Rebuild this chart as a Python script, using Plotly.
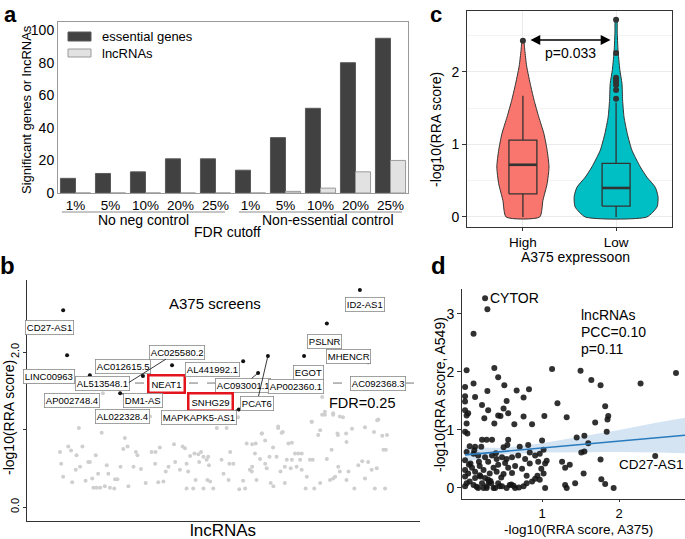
import plotly.graph_objects as go

W, H = 685, 539
FONT = "Liberation Sans, Arial, sans-serif"


def px(x):
    return x / W


def py(y):
    return 1 - y / H


# ---------------- Panel a data ----------------
fdr_labels = ['1%', '5%', '10%', '20%', '25%', '1%', '5%', '10%', '20%', '25%']
essential_genes = [9, 12, 13, 21, 21, 14, 34, 52, 80, 95]
lncrna_counts = [0, 0, 0, 0, 0, 0, 1, 3, 13, 20]
group_names = ['No neg control', 'Non-essential control']

# ---------------- Panel b data ----------------
grey_x = [13.2, 19.0, 8.4, 10.5, 11.2, 14.1, 12.6, 17.5, 8.7, 13.5, 12.4, 9.2, 11.5, 14.9, 15.6, 16.0,
          16.6, 16.9, 17.7, 18.6, 18.1, 20.3, 20.7, 19.8, 21.1, 22.2, 23.0, 22.4, 23.8, 24.9, 24.5, 25.6,
          25.8, 27.7, 28.1, 27.1, 29.0, 30.2, 31.7, 32.7, 32.6, 33.8, 33.4, 34.7, 35.3, 36.0, 37.4, 37.7,
          39.6, 40.2, 38.9, 40.6, 41.0, 41.5, 42.6, 43.6, 44.3, 44.9, 43.8, 42.9, 42.3, 40.6, 44.9, 45.9,
          46.6, 47.4, 46.1, 46.3, 48.3, 50.8, 49.5, 50.0, 51.3, 51.7, 52.5, 54.0, 55.0, 55.9, 57.3, 58.2,
          58.0, 59.3, 59.7, 56.7, 57.2, 58.4, 61.0, 60.6, 61.7, 62.0, 62.7, 63.9, 64.8, 63.5, 64.5, 65.6,
          66.5, 67.4, 67.1, 66.1, 68.2, 69.0, 69.9, 69.5, 68.6, 69.9, 70.9, 71.2, 72.4, 72.7, 72.0, 73.1,
          74.1, 74.6, 75.1, 76.3, 77.5, 77.9, 79.0, 79.2, 79.6, 81.3, 81.3, 81.8, 83.3, 84.3, 85.3, 86.0,
          86.8, 87.7, 88.5, 89.0, 89.4, 90.4, 90.7, 91.1, 91.3, 77.9, 78.4, 77.1, 65.6, 57.3, 55.5, 51.5,
          45.7, 19.3, 31.3, 35.1, 53.7, 52.9, 63.9, 65.1, 59.8, 72.5, 74.6, 75.8, 77.9, 80.4, 79.1, 81.2,
          82.7, 86.0, 88.3, 89.1, 91.6, 60.6, 67.4, 62.6, 75.1, 75.8, 79.6, 52.2]
grey_y = [1.02, 0.96, 0.71, 0.78, 0.73, 0.78, 0.67, 0.67, 0.56, 0.52, 0.48, 0.39, 0.32, 0.34, 0.58, 0.58,
          0.37, 0.25, 0.25, 0.25, 0.43, 0.54, 0.43, 0.27, 0.25, 0.24, 0.36, 0.36, 0.52, 0.89, 0.75, 0.78,
          0.27, 0.71, 0.67, 0.52, 0.49, 0.31, 0.71, 0.71, 0.56, 0.77, 0.32, 0.33, 0.46, 0.52, 0.81, 0.58,
          0.78, 0.76, 0.48, 0.56, 0.46, 0.66, 0.69, 0.68, 0.71, 0.65, 0.58, 0.35, 0.24, 0.24, 0.24, 0.35,
          0.33, 0.24, 0.65, 0.54, 1.02, 1.02, 0.61, 0.43, 0.35, 0.71, 0.56, 0.23, 0.34, 0.82, 0.81, 0.82,
          0.69, 0.62, 0.95, 0.48, 0.46, 0.35, 0.50, 0.56, 0.65, 0.31, 0.27, 1.04, 0.96, 0.65, 0.46, 0.31,
          0.82, 0.61, 0.50, 0.61, 0.69, 0.69, 0.69, 0.61, 0.52, 0.48, 0.24, 0.39, 1.10, 0.61, 0.61, 0.24,
          0.93, 0.31, 1.19, 0.62, 0.74, 1.19, 0.95, 0.52, 0.46, 0.84, 0.35, 0.46, 0.24, 0.54, 0.59, 0.37,
          0.58, 0.48, 0.24, 0.50, 1.13, 0.92, 0.74, 0.24, 0.74, 0.37, 0.39, 0.35, 0.52, 0.52, 0.24, 0.56,
          0.61, 1.47, 1.17, 1.11, 1.16, 1.10, 1.02, 0.97, 0.95, 1.10, 0.99, 1.19, 1.21, 1.16, 0.93, 0.95,
          1.01, 1.03, 0.97, 1.12, 0.93, 0.86, 0.83, 0.77, 1.42, 1.23, 1.17, 1.15]

sig_names = ['CD27-AS1', 'LINC00963', 'AL513548.1', 'AC012615.5', 'AC025580.2', 'NEAT1',
             'AL441992.1', 'AC093001.1', 'AP002360.1', 'AC092368.3', 'AP002748.4', 'DM1-AS',
             'SNHG29', 'PCAT6', 'AL022328.4', 'MAPKAPK5-AS1', 'EGOT', 'PSLNR', 'MHENCR', 'ID2-AS1']
sig_x = [9.2, 10.2, 16.0, 29.5, 25.7, 36.9, 55.0, 58.8, 68.4, 89.3, 11.5, 23.7,
         46.8, 61.3, 24.4, 53.9, 70.5, 76.3, 86.8, 84.7]
sig_y = [2.54, 1.96, 1.70, 1.69, 1.60, 1.83, 1.88, 1.73, 1.55, 1.60, 1.38, 1.47,
         1.35, 1.95, 1.17, 1.26, 1.95, 2.37, 1.87, 2.80]
label_x = [5.6, 5.6, 19.1, 24.4, 38.2, 35.4, 47.3, 55.0, 68.4, 89.3, 11.5, 29.5,
           46.8, 58.5, 24.4, 43.8, 71.5, 75.8, 81.7, 86.0]
label_y = [2.32, 1.68, 1.59, 1.81, 2.00, 1.59, 1.78, 1.57, 1.55, 1.60, 1.38, 1.38,
           1.35, 1.34, 1.17, 1.16, 1.74, 2.13, 1.94, 2.62]
label_connector = ['AC025580.2', 'AC093001.1', 'DM1-AS', 'PCAT6', 'MAPKAPK5-AS1']
label_highlight = ['NEAT1', 'SNHG29']
fdr_cut = 1.6

# ---------------- Panel c data ----------------
c_groups = ['High', 'Low']
c_pos = [1, 2]
high_levels = [0.0, 0.23, 0.46, 0.69, 0.92, 1.15, 1.38, 1.61, 1.80, 2.08, 2.30, 2.43]
high_halfw = [0.18, 0.215, 0.26, 0.28, 0.26, 0.225, 0.17, 0.12, 0.085, 0.04, 0.02, 0.008]
low_levels = [0.0, 0.14, 0.28, 0.41, 0.55, 0.69, 0.92, 1.15, 1.38, 1.61, 1.84, 2.03, 2.31, 2.55, 2.72]
low_halfw = [0.33, 0.44, 0.45, 0.42, 0.33, 0.26, 0.17, 0.12, 0.085, 0.07, 0.063, 0.04, 0.02, 0.012, 0.008]
box_q1 = [0.32, 0.15]
box_median = [0.72, 0.40]
box_q3 = [1.06, 0.74]
box_lower = [0.0, 0.0]
box_upper = [1.67, 1.58]
box_halfwidth = 0.15
high_outliers = [2.43]
low_outliers = [1.63, 1.75, 1.82, 1.86, 1.89, 1.92, 2.26, 2.72]
c_colors = ['#F8766D', '#00BFC4']
p_bracket_y = 2.44

# ---------------- Panel d data ----------------
d_x = [0.26, 0.29, 0.11, 0.02, 0.38, 1.13, 1.50, 2.74, 0.43, 1.64, 2.28, 1.76, 0.11, 0.00, 0.51, 0.29,
       0.67, 0.83, 0.76, 0.00, 0.13, 0.00, 0.54, 1.20, 1.82, 0.22, 0.00, 0.04, 0.02, 0.30, 0.50, 0.56,
       0.43, 0.46, 0.76, 1.03, 1.32, 1.86, 1.85, 0.25, 0.38, 0.64, 1.69, 0.87, 0.02, 0.00, 0.03, 1.84,
       0.22, 0.28, 0.35, 0.56, 1.00, 1.45, 1.55, 1.60, 0.06, 0.13, 0.21, 0.50, 0.55, 0.71, 0.82, 1.02,
       1.51, 1.55, 0.02, 0.00, 0.11, 0.17, 0.26, 0.35, 0.41, 0.48, 0.54, 0.61, 0.69, 0.78, 0.84, 0.91,
       0.97, 1.04, 1.06, 1.26, 1.36, 1.30, 1.76, 2.47, 0.09, 0.19, 0.30, 0.37, 0.43, 0.52, 0.56, 0.65,
       0.74, 0.84, 0.95, 0.99, 0.00, 0.04, 0.13, 0.24, 0.32, 0.41, 0.50, 0.61, 0.80, 0.91, 0.94, 1.02,
       1.54, 1.77, 1.82, 1.43, 1.30, 1.93, 0.00, 0.06, 0.11, 0.17, 0.22, 0.28, 0.30, 0.37, 0.43, 0.48,
       0.54, 0.58, 0.65, 0.76, 0.80, 0.87, 0.97, 1.04, 1.32, 0.00, 0.02, 0.13, 0.19, 0.26, 0.34, 0.39,
       0.28, 0.24, 0.07, 0.15, 0.33, 0.45, 0.60, 0.70, 0.05, 0.18, 0.31, 0.47, 0.63, 0.40, 0.12, 0.20]
d_y = [3.27, 3.08, 2.66, 2.03, 2.07, 2.05, 2.02, 1.98, 1.91, 1.86, 1.80, 1.77, 1.80, 1.74, 1.77, 1.67,
       1.68, 1.70, 1.56, 1.58, 1.57, 1.49, 1.50, 1.46, 1.41, 1.43, 1.34, 1.29, 1.25, 1.34, 1.37, 1.29,
       1.25, 1.24, 1.23, 1.24, 1.22, 1.24, 1.18, 1.20, 1.11, 1.10, 1.13, 1.10, 1.11, 0.97, 0.94, 0.97,
       0.83, 0.83, 0.83, 0.83, 0.82, 0.87, 0.90, 0.77, 0.72, 0.71, 0.71, 0.70, 0.74, 0.71, 0.74, 0.66,
       0.61, 0.63, 0.62, 0.48, 0.59, 0.56, 0.53, 0.56, 0.50, 0.53, 0.50, 0.53, 0.56, 0.50, 0.61, 0.56,
       0.59, 0.42, 0.47, 0.45, 0.40, 0.35, 0.49, 0.55, 0.35, 0.38, 0.45, 0.35, 0.40, 0.43, 0.35, 0.38,
       0.33, 0.42, 0.45, 0.33, 0.31, 0.25, 0.28, 0.31, 0.25, 0.28, 0.24, 0.26, 0.21, 0.16, 0.21, 0.25,
       0.25, 0.15, 0.07, 0.08, 0.05, 0.00, 0.20, 0.11, 0.05, 0.00, 0.08, 0.03, 0.14, 0.00, 0.08, 0.03,
       0.00, 0.05, 0.00, 0.03, 0.08, 0.11, 0.14, 0.00, 0.00, 0.03, 0.08, 0.17, 0.22, 0.17, 0.08, 0.00,
       0.00, 0.00, 0.42, 0.02, 0.12, 0.03, 0.06, 0.01, 0.40, 0.45, 0.10, 0.18, 0.04, 0.60, 0.65, 0.20]
fit_x = [0.0, 0.5, 1.0, 1.5, 2.0, 2.5, 2.857]
fit_y = [0.57, 0.63, 0.69, 0.75, 0.81, 0.87, 0.91]
ci_low = [0.45, 0.58, 0.61, 0.62, 0.62, 0.61, 0.60]
ci_high = [0.70, 0.69, 0.77, 0.88, 1.00, 1.13, 1.21]
d_stats = ['lncRNAs', 'PCC=0.10', 'p=0.11']

fig = go.Figure()

# ---- Panel a: grouped bars ----
xa = list(range(len(fdr_labels)))
fig.add_trace(go.Bar(x=xa, y=essential_genes, marker=dict(color='#414141', line=dict(color='#5a5a5a', width=1)),
                     xaxis='x', yaxis='y', name='essential genes', showlegend=False))
fig.add_trace(go.Bar(x=xa, y=lncrna_counts, marker=dict(color='#e2e2e2', line=dict(color='#9a9a9a', width=1)),
                     xaxis='x', yaxis='y', name='lncRNAs', showlegend=False))

# ---- Panel b: scatter ----
fig.add_trace(go.Scatter(x=grey_x, y=grey_y, mode='markers', xaxis='x2', yaxis='y2',
                         marker=dict(color='#cfcfcf', size=4), showlegend=False, hoverinfo='skip'))
fig.add_trace(go.Scatter(x=sig_x, y=sig_y, mode='markers', xaxis='x2', yaxis='y2',
                         marker=dict(color='#111111', size=4), showlegend=False, text=sig_names))

# ---- Panel c: violins + boxes (all as scatter so the layering is right) ----
for pos, levels, halfw, col in [(c_pos[0], high_levels, high_halfw, c_colors[0]),
                                 (c_pos[1], low_levels, low_halfw, c_colors[1])]:
    vx = [pos - w for w in halfw] + [pos + w for w in reversed(halfw)]
    vy = list(levels) + list(reversed(levels))
    vx.append(vx[0])
    vy.append(vy[0])
    fig.add_trace(go.Scatter(x=vx, y=vy, mode='lines', fill='toself', fillcolor=col,
                             line=dict(color='#333333', width=1, shape='spline', smoothing=0.6),
                             xaxis='x3', yaxis='y3', showlegend=False, hoverinfo='skip'))
for i, pos in enumerate(c_pos):
    l, r = pos - box_halfwidth, pos + box_halfwidth
    fig.add_trace(go.Scatter(x=[pos, pos, None, pos, pos],
                             y=[box_lower[i], box_q1[i], None, box_q3[i], box_upper[i]],
                             mode='lines', line=dict(color='#333333', width=1.3), xaxis='x3', yaxis='y3',
                             showlegend=False, hoverinfo='skip'))
    fig.add_trace(go.Scatter(x=[l, r, r, l, l], y=[box_q1[i], box_q1[i], box_q3[i], box_q3[i], box_q1[i]],
                             mode='lines', line=dict(color='#333333', width=1.3), xaxis='x3', yaxis='y3',
                             showlegend=False, hoverinfo='skip'))
    fig.add_trace(go.Scatter(x=[l, r], y=[box_median[i], box_median[i]], mode='lines',
                             line=dict(color='#333333', width=2.6), xaxis='x3', yaxis='y3',
                             showlegend=False, hoverinfo='skip'))
fig.add_trace(go.Scatter(x=[c_pos[0]] * len(high_outliers) + [c_pos[1]] * len(low_outliers),
                         y=high_outliers + low_outliers, mode='markers',
                         marker=dict(color='#333333', size=6), xaxis='x3', yaxis='y3',
                         showlegend=False))

# ---- Panel d: scatter + fit ----
fig.add_trace(go.Scatter(x=fit_x, y=ci_low, mode='lines', line=dict(width=0), xaxis='x4', yaxis='y4',
                         showlegend=False, hoverinfo='skip'))
fig.add_trace(go.Scatter(x=fit_x, y=ci_high, mode='lines', line=dict(width=0), fill='tonexty',
                         fillcolor='rgba(160,195,228,0.45)', xaxis='x4', yaxis='y4',
                         showlegend=False, hoverinfo='skip'))
fig.add_trace(go.Scatter(x=d_x, y=d_y, mode='markers', xaxis='x4', yaxis='y4',
                         marker=dict(color='rgba(20,20,20,0.88)', size=6), showlegend=False))
fig.add_trace(go.Scatter(x=fit_x, y=fit_y, mode='lines', line=dict(color='#2a7bbd', width=1.6),
                         xaxis='x4', yaxis='y4', showlegend=False))

ann = []
shapes = []


def ptext(text, x, y, size=14, angle=0, xanchor='center', yanchor='middle'):
    return dict(text=text, x=px(x), y=py(y), xref='paper', yref='paper', showarrow=False,
                textangle=angle, xanchor=xanchor, yanchor=yanchor,
                font=dict(size=size, family=FONT, color='black'))


# panel letters
ann.append(ptext('<b>a</b>', 10, 0, size=22, yanchor='top'))
ann.append(ptext('<b>c</b>', 436, 0, size=22, yanchor='top'))
ann.append(ptext('<b>b</b>', 8, 266, size=24))
ann.append(ptext('<b>d</b>', 438, 266, size=24))

# ---- panel a extras ----
ann.append(ptext('Significant genes or lncRNAs', 26, 110, size=13, angle=-90))
shapes.append(dict(type='rect', xref='paper', yref='paper', x0=px(68), x1=px(91), y0=py(41), y1=py(32),
                   fillcolor='#414141', line=dict(color='#5a5a5a', width=1)))
shapes.append(dict(type='rect', xref='paper', yref='paper', x0=px(68), x1=px(91), y0=py(57), y1=py(49),
                   fillcolor='#e2e2e2', line=dict(color='#9a9a9a', width=1)))
ann.append(ptext('essential genes', 100, 37, size=13, xanchor='left'))
ann.append(ptext('lncRNAs', 100, 53, size=13, xanchor='left'))
for (x0, x1), gname, gx in zip([(-0.39, 4.27), (4.67, 9.33)], group_names, [143, 328]):
    shapes.append(dict(type='line', xref='x', yref='paper', x0=x0, x1=x1, y0=py(212), y1=py(212),
                       line=dict(color='#8c8c8c', width=1)))
    ann.append(ptext(gname, gx, 220, size=14))
ann.append(ptext('FDR cutoff', 227, 232, size=14))

# ---- panel b extras ----
shapes.append(dict(type='line', xref='x2', yref='y2', x0=0, x1=100, y0=fdr_cut, y1=fdr_cut,
                   line=dict(color='#777777', width=1, dash='dash'), layer='below'))
for name, sx, sy, lx, ly in zip(sig_names, sig_x, sig_y, label_x, label_y):
    hl = name in label_highlight
    d = dict(text=name, xref='x2', yref='y2', font=dict(size=9.5, family=FONT, color='black'),
             bgcolor='white', bordercolor='#e3141b' if hl else '#8a8a8a',
             borderwidth=2.5 if hl else 0.8, borderpad=2 if hl else 1,
             xanchor='center', yanchor='middle')
    if name in label_connector:
        d.update(x=sx, y=sy, ax=lx, ay=ly, axref='x2', ayref='y2', showarrow=True, arrowhead=0,
                 arrowwidth=0.9, arrowcolor='#222222', standoff=1)
    else:
        d.update(x=lx, y=ly, showarrow=False)
    ann.append(d)
ann.append(ptext('A375 screens', 215, 303, size=15))
ann.append(ptext('FDR=0.25', 362, 403, size=14.5))
ann.append(ptext('-log10(RRA score)', 9, 418, size=14, angle=-90))
ann.append(ptext('lncRNAs', 223, 530, size=17))

# ---- panel c extras ----
ann.append(dict(text='', x=1.94, y=p_bracket_y, ax=1.065, ay=p_bracket_y, xref='x3', yref='y3',
                axref='x3', ayref='y3', showarrow=True, arrowhead=2, startarrowhead=2,
                arrowside='end+start', arrowsize=1.4, startarrowsize=1.4, arrowwidth=1.4, arrowcolor='black'))
ann.append(ptext('p=0.033', 570, 53, size=14))
ann.append(ptext('-log10(RRA score)', 436, 130, size=14, angle=-90))
ann.append(ptext('A375 expressoon', 575, 257, size=14))

# ---- panel d extras ----
ann.append(dict(text='CYTOR', x=0.30, y=3.28, xref='x4', yref='y4', xanchor='left', yanchor='middle',
                showarrow=False, font=dict(size=14, family=FONT, color='black')))
ann.append(dict(text='CD27-AS1', x=1.98, y=0.40, xref='x4', yref='y4', xanchor='left', yanchor='middle',
                showarrow=False, font=dict(size=13.5, family=FONT, color='black')))
for txt, yy in zip(d_stats, [315, 332, 349]):
    ann.append(ptext(txt, 579, yy, size=14, xanchor='left'))
ann.append(ptext('-log10(RRA score, A549)', 440, 395, size=14, angle=-90))
ann.append(ptext('-log10(RRA score, A375)', 578, 529, size=13.5))

tickfont = dict(size=14, family=FONT, color='black')
fig.update_layout(
    template='none',
    width=W, height=H, margin=dict(l=0, r=0, t=0, b=0, pad=0), autosize=False,
    paper_bgcolor='white', plot_bgcolor='white',
    barmode='group', bargap=0.14, bargroupgap=0,
    showlegend=False, font=dict(family=FONT, color='black'),
    annotations=ann, shapes=shapes,
    # panel a
    xaxis=dict(domain=[px(58), px(408)], anchor='y', range=[-0.5, 9.5], tickvals=xa, ticktext=fdr_labels,
               showline=True, mirror=True, linecolor='#9a9a9a', linewidth=1, ticks='', showgrid=False,
               zeroline=False, automargin=False, tickfont=dict(size=13.5, family=FONT, color='black')),
    yaxis=dict(domain=[py(193), py(22)], anchor='x', range=[0, 105], tickvals=[0, 20, 40, 60, 80, 100],
               showline=True, mirror=True, linecolor='#9a9a9a', linewidth=1, ticks='', showgrid=False,
               zeroline=False, automargin=False, tickfont=tickfont),
    # panel b
    xaxis2=dict(domain=[px(27), px(420)], anchor='y2', range=[0, 100], showticklabels=False, ticks='',
                showline=True, linecolor='#333333', linewidth=1, showgrid=False, zeroline=False,
                automargin=False),
    yaxis2=dict(domain=[py(521), py(280)], anchor='x2', range=[-0.18, 2.93], tickvals=[0, 1, 2],
                ticktext=['0.0', '', '2.0'], tickangle=-90, ticks='outside', ticklen=3, tickcolor='#333333',
                showline=True, linecolor='#333333', linewidth=1, showgrid=False, zeroline=False,
                automargin=False, tickfont=dict(size=11, family=FONT, color='black')),
    # panel c
    xaxis3=dict(domain=[px(467), px(672)], anchor='y3', range=[0.4, 2.6], tickvals=c_pos, ticktext=c_groups,
                ticks='outside', ticklen=3, tickcolor='#333333', showline=True, mirror=True,
                linecolor='#333333', linewidth=1, showgrid=True, gridcolor='#ebebeb', zeroline=False,
                automargin=False, tickfont=dict(size=13.5, family=FONT, color='black')),
    yaxis3=dict(domain=[py(227), py(11)], anchor='x3', range=[-0.138, 2.84], tick0=0, dtick=1,
                ticks='outside', ticklen=4, tickcolor='#333333', showline=True, mirror=True,
                linecolor='#333333', linewidth=1, showgrid=True, gridcolor='#ebebeb', zeroline=False,
                minor=dict(dtick=0.5, showgrid=True, gridcolor='#f3f3f3', gridwidth=1),
                automargin=False, tickfont=tickfont),
    # panel d
    xaxis4=dict(domain=[px(462), px(685)], anchor='y4', range=[-0.04, 2.857], tickvals=[1, 2],
                ticks='outside', ticklen=2, tickcolor='#333333', showline=True, linecolor='#333333',
                linewidth=1, showgrid=False, zeroline=False, automargin=False,
                tickfont=dict(size=13, family=FONT, color='black')),
    yaxis4=dict(domain=[py(499), py(289)], anchor='x4', range=[-0.19, 3.43], tickvals=[0, 1, 2, 3],
                ticks='outside', ticklen=4, tickcolor='#333333', showline=True, linecolor='#333333',
                linewidth=1, showgrid=False, zeroline=False, automargin=False, tickfont=tickfont),
)

fig.write_html("out.html", config={'displayModeBar': False},
               post_script="document.body.style.margin='0px';")
